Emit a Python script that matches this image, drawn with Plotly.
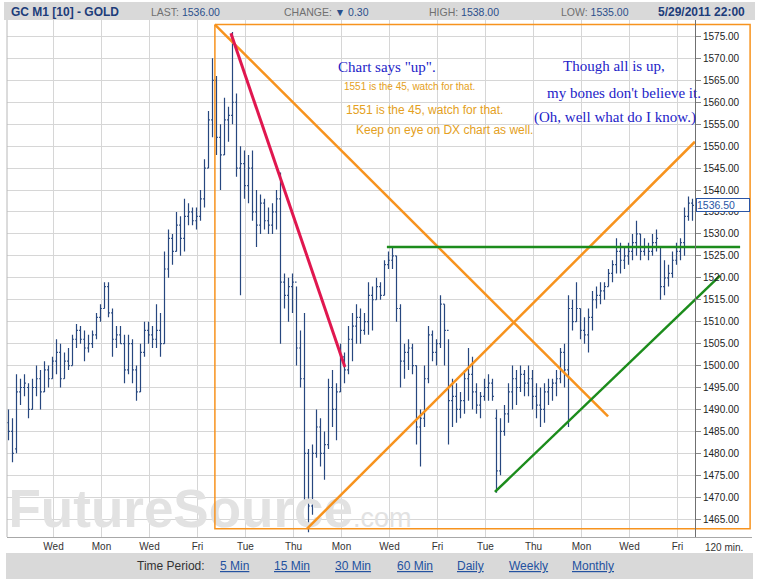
import plotly.graph_objects as go

# # Canvas helpers (pixel -> paper fraction)
W, H = 759, 585


def px(x):
    return x / W


def py(y):
    return 1 - y / H


# # Bar data, 120 min gold bars
bar_high = [1490, 1488, 1498, 1497, 1498, 1496, 1497, 1500, 1499, 1501,
            1500, 1502, 1506, 1505, 1503, 1504, 1507, 1509.5, 1509, 1508,
            1507, 1508, 1512, 1514, 1519, 1519, 1513, 1509, 1509, 1507,
            1507, 1506, 1500, 1505, 1510, 1510, 1509, 1514, 1512, 1526,
            1531, 1530, 1535, 1534, 1538, 1537, 1536, 1536, 1540, 1547,
            1558, 1570, 1566, 1555, 1561, 1559, 1576, 1562, 1550, 1549,
            1548, 1549, 1540, 1539, 1538, 1536, 1537, 1540, 1544, 1521,
            1520, 1521, 1518, 1508, 1512, 1481, 1482, 1490, 1488, 1485,
            1497, 1499, 1496, 1505, 1503, 1509, 1512, 1514, 1513, 1512,
            1519, 1518, 1520, 1519, 1524, 1526, 1527, 1525, 1514, 1505,
            1506, 1505, 1500, 1490, 1500, 1509, 1508, 1506, 1516, 1514,
            1506, 1497, 1496, 1494, 1499, 1504, 1502, 1496, 1494, 1497,
            1498, 1497, 1490, 1488, 1491, 1496, 1500, 1499, 1500, 1499,
            1500, 1499, 1496, 1495, 1496, 1497, 1497, 1499, 1504, 1505,
            1516, 1515, 1519, 1513, 1511, 1513, 1517, 1518, 1519, 1519,
            1522, 1524, 1529, 1528, 1527, 1528, 1530, 1533, 1530, 1529,
            1528, 1530, 1531, 1527, 1524, 1523, 1526, 1528, 1529, 1536,
            1538.5, 1538]
bar_low = [1483, 1478, 1480, 1491, 1493, 1488, 1490, 1493, 1490, 1494,
           1495, 1497, 1498, 1495, 1497, 1499, 1500, 1504, 1505, 1501,
           1503, 1504, 1506, 1510, 1513, 1511, 1502, 1504, 1505, 1496,
           1498, 1496, 1492, 1494, 1502, 1505, 1504, 1504, 1502, 1505,
           1520, 1523, 1526, 1525, 1526, 1532, 1532, 1531, 1533, 1536,
           1545, 1552, 1548, 1540, 1548, 1551, 1555, 1543, 1516, 1538,
           1537, 1533, 1527, 1530, 1531, 1530, 1530, 1531, 1505, 1513,
           1510, 1512, 1500, 1495, 1468, 1462, 1466, 1479, 1477, 1474,
           1481, 1486, 1483, 1494, 1496, 1498, 1501, 1505, 1505, 1507,
           1507, 1508, 1515, 1515, 1516, 1522, 1522, 1510, 1495, 1497,
           1499, 1498, 1482, 1477, 1486, 1496, 1501, 1500, 1504, 1500,
           1482, 1486, 1487, 1488, 1489, 1492, 1490, 1489, 1488, 1492,
           1492, 1492, 1471, 1475, 1484, 1487, 1490, 1491, 1494, 1493,
           1493, 1490, 1488, 1486, 1487, 1491, 1492, 1493, 1496, 1495,
           1486, 1508, 1510, 1506, 1505, 1503, 1508, 1513, 1514, 1515,
           1518, 1519, 1521, 1521, 1522, 1523, 1524, 1525, 1524, 1525,
           1524, 1525, 1526, 1515, 1516, 1518, 1520, 1523, 1524, 1525,
           1533, 1533]
bar_open = [1487, 1485, 1481, 1494, 1495, 1495, 1490, 1495, 1497, 1494,
            1499, 1497, 1501, 1503, 1497, 1501, 1500, 1506, 1508, 1506,
            1504, 1505, 1507, 1511, 1513, 1518, 1512, 1506, 1507, 1505,
            1499, 1505, 1499, 1494, 1503, 1508, 1507, 1506, 1508, 1505,
            1522, 1529, 1526, 1532, 1529, 1534, 1535, 1533, 1534, 1538,
            1545, 1556, 1565, 1552, 1548, 1556, 1557, 1560, 1545, 1546,
            1541, 1545, 1535, 1532, 1537, 1533, 1532, 1535, 1538, 1519,
            1516, 1518, 1519, 1504, 1497, 1480, 1468, 1480, 1486, 1480,
            1482, 1495, 1490, 1494, 1502, 1499, 1506, 1509, 1511, 1508,
            1510, 1516, 1515, 1518, 1516, 1523, 1524, 1525, 1513, 1501,
            1503, 1504, 1500, 1486, 1488, 1497, 1507, 1503, 1505, 1514,
            1508, 1492, 1493, 1490, 1492, 1497, 1498, 1494, 1491, 1493,
            1495, 1496, 1488, 1476, 1485, 1489, 1494, 1497, 1495, 1498,
            1496, 1497, 1493, 1491, 1490, 1494, 1495, 1496, 1497, 1503,
            1499, 1513, 1510, 1513, 1508, 1507, 1511, 1515, 1516, 1517,
            1518, 1521, 1523, 1526, 1524, 1525, 1526, 1528, 1530, 1526,
            1527, 1526, 1528, 1527, 1518, 1520, 1521, 1524, 1526, 1528,
            1534, 1537]
bar_close = [1485, 1480, 1494, 1495, 1496, 1490, 1495, 1497, 1494, 1499,
             1497, 1501, 1503, 1497, 1501, 1500, 1506, 1508, 1506, 1504,
             1505, 1507, 1511, 1513, 1518, 1512, 1506, 1507, 1505, 1499,
             1505, 1499, 1494, 1503, 1508, 1507, 1506, 1508, 1505, 1522,
             1529, 1526, 1532, 1529, 1534, 1535, 1533, 1534, 1538, 1545,
             1556, 1565, 1552, 1548, 1556, 1557, 1560, 1545, 1546, 1541,
             1545, 1535, 1532, 1537, 1533, 1532, 1535, 1538, 1519, 1516,
             1518, 1519, 1504, 1497, 1480, 1468, 1480, 1486, 1480, 1482,
             1495, 1490, 1494, 1502, 1499, 1506, 1509, 1511, 1508, 1510,
             1516, 1515, 1518, 1516, 1523, 1524, 1525, 1513, 1501, 1503,
             1504, 1500, 1486, 1488, 1497, 1507, 1503, 1505, 1514, 1508,
             1492, 1493, 1490, 1492, 1497, 1498, 1494, 1491, 1493, 1495,
             1496, 1493, 1476, 1485, 1489, 1494, 1497, 1495, 1498, 1496,
             1497, 1493, 1491, 1490, 1494, 1495, 1496, 1497, 1503, 1499,
             1513, 1510, 1513, 1508, 1507, 1511, 1515, 1516, 1517, 1518,
             1521, 1523, 1526, 1524, 1525, 1526, 1528, 1530, 1526, 1527,
             1526, 1528, 1529, 1518, 1520, 1521, 1524, 1526, 1528, 1534,
             1537, 1536.5]
bar_index = list(range(len(bar_close)))

day_labels = ["Wed", "Mon", "Wed", "Fri", "Tue", "Thu", "Mon",
              "Wed", "Fri", "Tue", "Thu", "Mon", "Wed", "Fri"]
day_ticks = [11.25 + 12 * k for k in range(len(day_labels))]

# # Hand drawn trend lines (bar index, price)
down_line_x = [51.6, 149.9]
down_line_y = [1577.7, 1488.4]
up_line_x = [74.6, 171.6]
up_line_y = [1462.8, 1551.0]
red_line_x = [55.6, 84.1]
red_line_y = [1575.7, 1499.7]
flat_green_x = [94.6, 182.9]
flat_green_y = [1527.0, 1527.0]
rise_green_x = [121.6, 177.9]
rise_green_y = [1471.2, 1520.5]
box_x = [51.6, 185.4, 185.4, 51.6, 51.6]
box_y = [1577.7, 1577.7, 1462.8, 1462.8, 1577.7]

last_price = 1536.50

period_labels = ["5 Min", "15 Min", "30 Min", "60 Min", "Daily", "Weekly", "Monthly"]
period_left = [218, 272, 333, 395, 455, 507, 570]

FONT = "Arial, Liberation Sans, sans-serif"
SERIF = "Times New Roman, Liberation Serif, serif"
ORANGE = "#f7931e"
NOTE_ORANGE = "#e4a021"
NOTE_BLUE = "#2323c8"
NAVY = "#1d3d7a"

fig = go.Figure()

# watermark goes first so the bars sit on top of it
fig.add_trace(go.Scatter(
    x=[0.0], y=[1466.3], mode="text",
    text=["<b>FutureSource</b><span style='font-size:27px'>.com</span>"],
    textposition="middle right",
    textfont=dict(family=FONT, size=53, color="#e2e2e2"),
    hoverinfo="skip", showlegend=False,
))

fig.add_trace(go.Ohlc(
    x=bar_index, open=bar_open, high=bar_high, low=bar_low, close=bar_close,
    increasing=dict(line=dict(color="#27477f", width=1.2)),
    decreasing=dict(line=dict(color="#27477f", width=1.2)),
    tickwidth=0.35, hoverinfo="skip", showlegend=False,
))


def add_line(xs, ys, color, width):
    fig.add_trace(go.Scatter(x=xs, y=ys, mode="lines",
                             line=dict(color=color, width=width),
                             hoverinfo="skip", showlegend=False))


add_line(box_x, box_y, ORANGE, 1.5)
add_line(down_line_x, down_line_y, ORANGE, 2.5)
add_line(up_line_x, up_line_y, ORANGE, 2.5)
add_line(red_line_x, red_line_y, "#e0174f", 3)
add_line(flat_green_x, flat_green_y, "#1c8c1c", 2.5)
add_line(rise_green_x, rise_green_y, "#1c8c1c", 2.5)

# x axis covers the label strip too, so the drawn lines can run into it
x_lo = -0.375
x_hi = x_lo + (752 - 7) / 4
y_lo, y_hi = 1460.94, 1578.74

shapes = [
    # header and footer bands
    dict(type="rect", xref="paper", yref="paper", x0=px(4), x1=px(755),
         y0=py(20), y1=py(2), fillcolor="#d9d9d9", line=dict(width=0), layer="below"),
    dict(type="rect", xref="paper", yref="paper", x0=px(6), x1=px(753),
         y0=py(579), y1=py(553), fillcolor="#d9d9d9", line=dict(width=0), layer="below"),
    # blank strip behind the price labels (hides the grid)
    dict(type="rect", xref="x", yref="y", x0=171.8, x1=x_hi, y0=y_lo, y1=y_hi,
         fillcolor="white", line=dict(width=0), layer="between"),
    # left frame line
    dict(type="line", xref="paper", yref="paper", x0=px(7), x1=px(7),
         y0=py(537), y1=py(20), line=dict(color="#b8b8b8", width=1)),
]

annotations = []


def note(x, y, text, size, color, family=FONT, anchor="left"):
    annotations.append(dict(x=px(x), y=py(y), xref="paper", yref="paper",
                            text=text, showarrow=False, xanchor=anchor,
                            yanchor="middle",
                            font=dict(family=family, size=size, color=color)))


# header
note(9, 12, "<b>GC M1 [10] - GOLD</b>", 12, NAVY)
note(149, 12, "LAST: <span style='color:#2b4f8c'>1536.00</span>", 10.5, "#707070")
note(282, 12, "CHANGE: <span style='color:#2b4f8c'>▼ 0.30</span>", 10.5, "#707070")
note(427, 12, "HIGH: <span style='color:#2b4f8c'>1538.00</span>", 10.5, "#707070")
note(559, 12, "LOW: <span style='color:#2b4f8c'>1535.00</span>", 10.5, "#707070")
note(747, 12, "<b>5/29/2011 22:00</b>", 12, NAVY, anchor="right")

# chart notes
note(336, 67, 'Chart says "up".', 15, NOTE_BLUE, SERIF)
note(342, 86, "1551 is the 45, watch for that.", 10, NOTE_ORANGE)
note(344, 110, "1551 is the 45, watch for that.", 12, NOTE_ORANGE)
note(354, 130, "Keep on eye on DX chart as well.", 12, NOTE_ORANGE)
note(614, 66, "Though all is up,", 15, NOTE_BLUE, SERIF, anchor="center")
note(624, 93, "my bones don't believe it.", 15, NOTE_BLUE, SERIF, anchor="center")
note(615, 118, "(Oh, well what do I know.)", 15, NOTE_BLUE, SERIF, anchor="center")

# footer
note(724, 547, "120 min.", 10, "#333333", anchor="center")
note(135, 566, "Time Period:", 12, "#333333")
for label, left in zip(period_labels, period_left):
    note(left, 566, "<u>" + label + "</u>", 12, "#2452a0")

# current price box on the axis
annotations.append(dict(
    x=px(696), y=last_price, xref="paper", yref="y", text=f"{last_price:.2f}",
    showarrow=False, xanchor="left", yanchor="middle", align="left", width=52,
    font=dict(family=FONT, size=10.5, color="#2a55a5"),
    bgcolor="white", bordercolor="#2a55a5", borderwidth=1, borderpad=0,
))

fig.update_layout(
    width=W, height=H,
    margin=dict(l=0, r=0, t=0, b=0),
    paper_bgcolor="white", plot_bgcolor="white",
    showlegend=False,
    font=dict(family=FONT, color="#333333"),
    shapes=shapes, annotations=annotations,
    xaxis=dict(
        domain=[px(7), px(752)], range=[x_lo, x_hi],
        tickmode="array", tickvals=day_ticks, ticktext=day_labels,
        ticks="", showgrid=True, gridcolor="#d6d6d6", gridwidth=1,
        showline=True, linecolor="#a8a8a8", zeroline=False,
        tickfont=dict(size=10, color="#333333"),
        rangeslider=dict(visible=False),
    ),
    yaxis=dict(
        domain=[py(537), py(20)], range=[y_lo, y_hi],
        anchor="free", position=px(695), side="right",
        tick0=1465, dtick=5, tickformat=".2f",
        ticks="outside", ticklen=5, tickcolor="#888888",
        showline=True, linecolor="#707070", linewidth=1,
        showgrid=True, gridcolor="#d6d6d6", zeroline=False,
        tickfont=dict(size=10, color="#222222"),
    ),
)

# page has a default 8px body margin; drop it so the chart sits at 0,0
fig.write_html("out.html", config={"displayModeBar": False},
               post_script="document.body.style.margin='0';")
